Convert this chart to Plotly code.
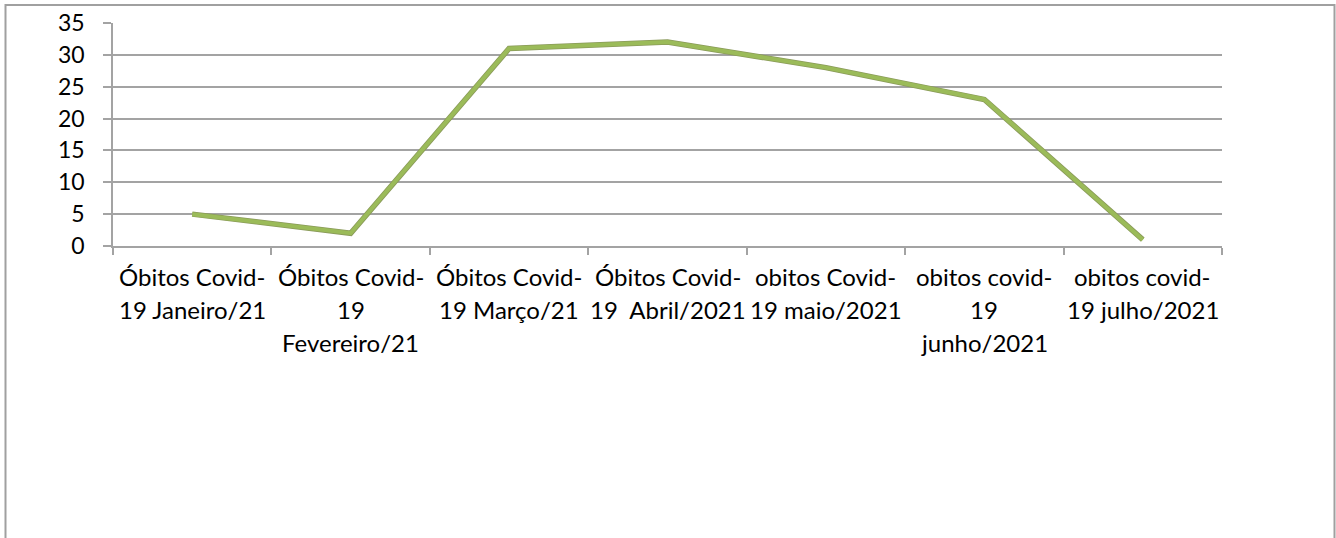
import plotly.graph_objects as go

categories = [
    "Óbitos Covid-19 Janeiro/21",
    "Óbitos Covid-19 Fevereiro/21",
    "Óbitos Covid-19 Março/21",
    "Óbitos Covid-19  Abril/2021",
    "obitos Covid-19 maio/2021",
    "obitos covid-19 junho/2021",
    "obitos covid-19 julho/2021",
]
label_lines = [
    ["Óbitos Covid-", "19 Janeiro/21"],
    ["Óbitos Covid-", "19", "Fevereiro/21"],
    ["Óbitos Covid-", "19 Março/21"],
    ["Óbitos Covid-", "19  Abril/2021"],
    ["obitos Covid-", "19 maio/2021"],
    ["obitos covid-", "19", "junho/2021"],
    ["obitos covid-", "19 julho/2021"],
]
values = [5, 2, 31, 32, 28, 23, 1]
y_ticks = [0, 5, 10, 15, 20, 25, 30, 35]

W, H = 1336, 538
L, R, T, B = 113, 1222, 22.5, 246
pw, ph = R - L, B - T

FONT = "Lato"
FS = 23
FSX = 24
GRID = "#a3a3a3"

fig = go.Figure()
fig.add_trace(go.Scatter(
    x=categories, y=values, mode="lines",
    line=dict(color="#8a9a5a", width=5.5), hoverinfo="skip", showlegend=False,
))
fig.add_trace(go.Scatter(
    x=categories, y=values, mode="lines",
    line=dict(color="#9BBB59", width=4), showlegend=False,
))

# category labels (multi-line, Excel-like spacing)
line_px = [277, 310, 343]
for cat, lines in zip(categories, label_lines):
    for i, txt in enumerate(lines):
        fig.add_annotation(
            x=cat, xref="x", y=(B - line_px[i]) / ph, yref="paper",
            text=txt, showarrow=False, xanchor="center", yanchor="middle",
            font=dict(family=FONT, size=FSX, color="#000000"),
        )

# outer chart border
fig.add_shape(
    type="rect", xref="paper", yref="paper",
    x0=(5.5 - L) / pw, x1=(1334.5 - L) / pw,
    y0=(B - 560) / ph, y1=(B - 4.5) / ph,
    line=dict(color="#a0a0a0", width=2), fillcolor="rgba(0,0,0,0)", layer="below",
)

fig.update_layout(
    width=W, height=H,
    margin=dict(l=L, r=W - R, t=T, b=H - B, pad=0, autoexpand=False),
    paper_bgcolor="white", plot_bgcolor="white",
    font=dict(family=FONT, size=FS, color="#000000"),
    xaxis=dict(
        type="category", range=[-0.5, 6.5], tickson="boundaries",
        ticks="outside", ticklen=7, tickcolor=GRID, tickwidth=1.5,
        showticklabels=False, showgrid=False, automargin=False,
        showline=True, linecolor=GRID, linewidth=1.5, zeroline=False,
    ),
    yaxis=dict(
        range=[0, 35], tickvals=y_ticks, ticks="outside", ticklen=8,
        tickcolor=GRID, tickwidth=1.5, showgrid=True, gridcolor=GRID, gridwidth=1.5,
        showline=True, linecolor=GRID, linewidth=1.5, zeroline=False,
        ticklabelstandoff=14, automargin=False,
        tickfont=dict(family=FONT, size=FS, color="#000000"),
    ),
)

fig.write_html(
    "out.html",
    config={"displayModeBar": False},
    post_script="document.body.style.margin='0';document.body.style.overflow='hidden';",
)
